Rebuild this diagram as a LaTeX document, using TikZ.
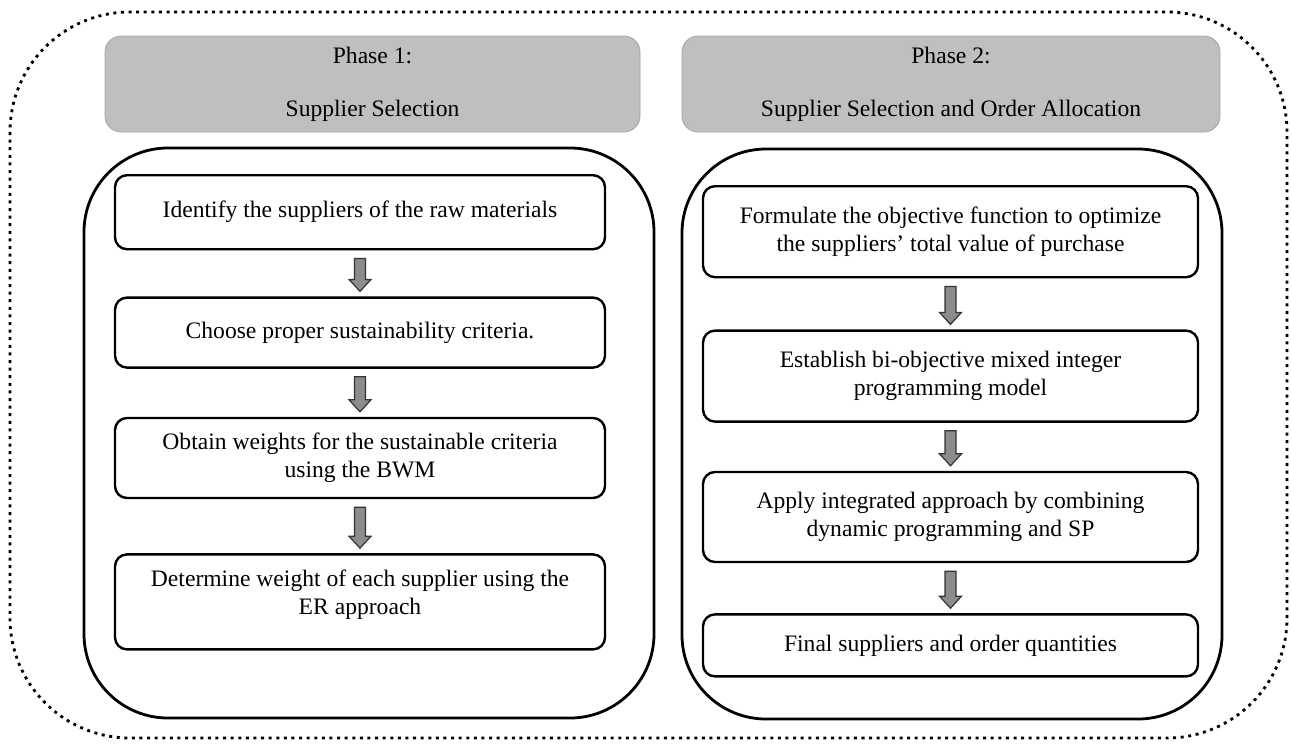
\documentclass[tikz,border=0pt]{standalone}
\usepackage{fontspec}
\setmainfont{Liberation Serif}
\usetikzlibrary{positioning}

% block arrow drawn between two step boxes
\newcommand{\downblock}[2]{%
  \draw[blockarrow] ([xshift=-2.75pt,yshift=-4pt]#1.south) -- ([xshift=-2.75pt,yshift=8.5pt]#2.north)
    -- ([xshift=-5.5pt,yshift=8.5pt]#2.north) -- ([yshift=2.5pt]#2.north)
    -- ([xshift=5.5pt,yshift=8.5pt]#2.north) -- ([xshift=2.75pt,yshift=8.5pt]#2.north)
    -- ([xshift=2.75pt,yshift=-4pt]#1.south) -- cycle;}

\begin{document}
\begin{tikzpicture}[x=0.5pt, y=-0.5pt, node distance=25pt]

% Define styles
\tikzstyle{phasehead} = [rectangle, rounded corners=8pt, draw=black!35, fill=black!25, minimum height=48pt, align=center, font=\fontsize{11.8}{14}\selectfont]
\tikzstyle{phasebox} = [rectangle, rounded corners=42pt, draw, line width=1.4pt, minimum height=285pt]
\tikzstyle{stepbox} = [rectangle, rounded corners=6pt, draw, line width=1.2pt, align=center, font=\fontsize{11.8}{14}\selectfont]
\tikzstyle{blockarrow} = [draw=black!80, line width=0.6pt, fill=black!45]

\useasboundingbox (0,0) rectangle (1291,746);

% Outer frame
\draw[line width=1.4pt, dash pattern=on 1.5pt off 2.3pt, rounded corners=60pt] (10,12) rectangle (1287,738);

% Phase headers
\node [phasehead, minimum width=267.5pt] (headA) at (372.5,84) {Phase 1:\\[12.5pt]Supplier Selection};
\node [phasehead, minimum width=269pt] (headB) at (951,84) {Phase 2:\\[12.5pt]Supplier Selection and Order Allocation};

% Phase frames
\node [phasebox, minimum width=285pt] (frameA) at (369,433) {};
\node [phasebox, minimum width=270pt] (frameB) at (952,434) {};

% Phase 1 steps
\node [stepbox, minimum width=245pt, minimum height=37pt, anchor=north] (identify) at (360,174) {Identify the suppliers of the raw materials};
\node [stepbox, minimum width=245pt, minimum height=35pt, below=23pt of identify] (choose) {Choose proper sustainability criteria.};
\node [stepbox, minimum width=245pt, minimum height=40pt, below=24pt of choose] (weights) {Obtain weights for the sustainable criteria\\using the BWM};
\node [stepbox, minimum width=245pt, minimum height=47.5pt, below=27pt of weights] (determine) {Determine weight of each supplier using the\\ER approach\\[-4pt]};

% Phase 2 steps
\node [stepbox, minimum width=247.5pt, minimum height=45.5pt, anchor=north] (formulate) at (950.5,185) {Formulate the objective function to optimize\\the suppliers’ total value of purchase};
\node [stepbox, minimum width=247.5pt, minimum height=45.5pt, below=25.5pt of formulate] (establish) {Establish bi-objective mixed integer\\programming model};
\node [stepbox, minimum width=247.5pt, minimum height=45pt, below=24pt of establish] (apply) {Apply integrated approach by combining\\dynamic programming and SP};
\node [stepbox, minimum width=247.5pt, minimum height=31pt, below=25pt of apply] (final) {Final suppliers and order quantities};

% Arrows
\downblock{identify}{choose}
\downblock{choose}{weights}
\downblock{weights}{determine}
\downblock{formulate}{establish}
\downblock{establish}{apply}
\downblock{apply}{final}

\end{tikzpicture}
\end{document}
